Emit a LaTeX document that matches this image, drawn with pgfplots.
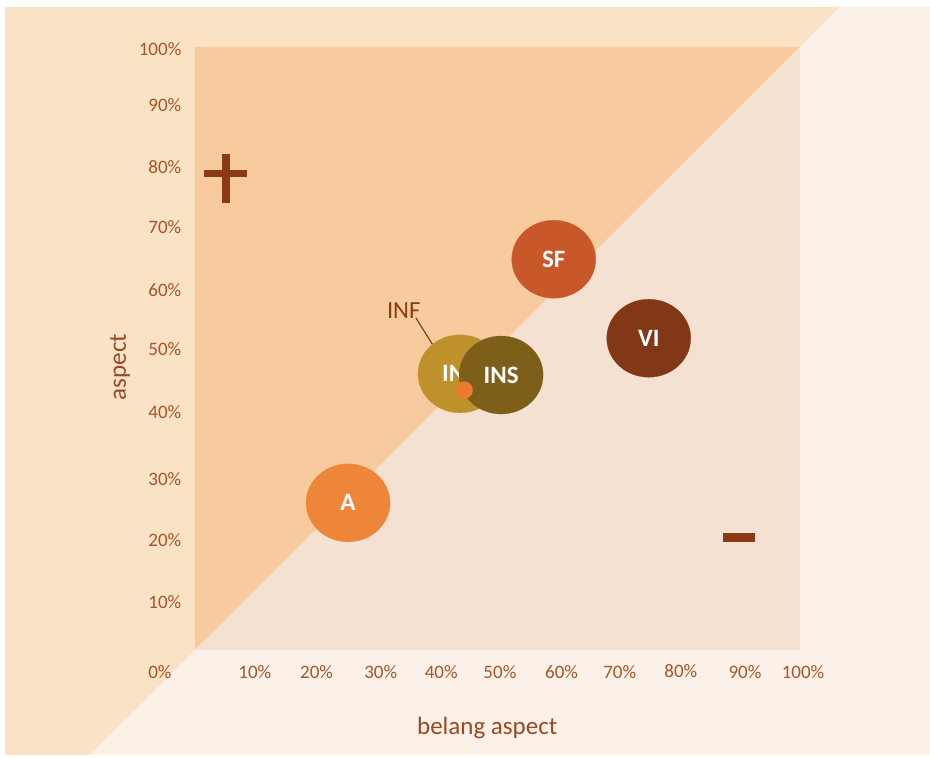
\documentclass[border=0pt]{standalone}
\usepackage{pgfplots}
\pgfplotsset{compat=1.18}
\usepackage{fontspec}
\setmainfont{Carlito}
\definecolor{outerUL}{RGB}{250,226,197}
\definecolor{outerLR}{RGB}{252,241,232}
\definecolor{innerUL}{RGB}{247,203,157}
\definecolor{innerLR}{RGB}{244,225,210}
\definecolor{tickc}{RGB}{166,86,40}
\definecolor{labc}{RGB}{156,72,32}
\definecolor{infc}{RGB}{140,60,25}
\definecolor{signc}{RGB}{139,58,21}
\definecolor{cA}{RGB}{238,134,58}
\definecolor{cSF}{RGB}{200,88,42}
\definecolor{cVI}{RGB}{130,56,22}
\definecolor{cGold}{RGB}{190,145,42}
\definecolor{cINS}{RGB}{125,95,25}
\definecolor{cDot}{RGB}{238,122,50}
\begin{document}
\begin{tikzpicture}
\begin{axis}[
  width=302.5pt, height=301.5pt, scale only axis,
  xmin=0, xmax=100, ymin=0, ymax=100, clip=false, axis on top,
  axis line style={draw=none}, major tick length=0pt, tick style={draw=none},
  xtick={9.9,20.1,30.7,40.7,50.4,60.6,70.2,80.3,90.9},
  xticklabels={10\%,20\%,\raisebox{-1.5pt}{30\%},40\%,50\%,60\%,70\%,\raisebox{1pt}{80\%},90\%},
  ytick={8.0,18.2,28.4,39.5,49.9,59.7,70.1,80.1,90.4,99.6},
  yticklabels={10\%,20\%,30\%,40\%,50\%,60\%,70\%,80\%,90\%,100\%},
  ticklabel style={font=\fontsize{9.5}{11}\selectfont, text=tickc},
  xticklabel style={anchor=center, yshift=-11pt},
  yticklabel style={anchor=east, xshift=-3.3pt},
  xlabel={belang aspect}, ylabel={aspect},
  label style={font=\fontsize{12.5}{14}\selectfont, text=labc},
  xlabel style={at={(axis description cs:0.483,-0.129)}, anchor=center},
  ylabel style={at={(axis description cs:-0.124,0.469)}, anchor=center},
]
% canvas and backgrounds
\addplot[draw=none, fill=white] coordinates {(-32.23,-17.91) (121.49,-17.91) (121.49,107.79) (-32.23,107.79)} -- cycle;
\addplot[draw=none, fill=outerUL] coordinates {(-31.4,-17.41) (-17.41,-17.41) (106.63,106.63) (-31.4,106.63)} -- cycle;
\addplot[draw=none, fill=outerLR] coordinates {(-17.41,-17.41) (121.49,-17.41) (121.49,106.63) (106.63,106.63)} -- cycle;
\addplot[draw=none, fill=innerUL] coordinates {(0,0) (100,100) (0,100)} -- cycle;
\addplot[draw=none, fill=innerLR] coordinates {(0,0) (100,0) (100,100)} -- cycle;
% end tick labels lying outside the axis range
\node[text=tickc, font=\fontsize{9.5}{11}\selectfont, anchor=center, yshift=-11pt] at (axis cs:-5.8,0) {0\%};
\node[text=tickc, font=\fontsize{9.5}{11}\selectfont, anchor=center, yshift=-11pt] at (axis cs:100.5,0) {100\%};
% plus and minus signs
\addplot[color=signc, line width=3.75pt] coordinates {(1.49,79.0) (8.6,79.0)};
\addplot[color=signc, line width=3.75pt] coordinates {(5.12,82.3) (5.12,74.1)};
\addplot[color=signc, line width=4.5pt] coordinates {(87.3,18.6) (92.6,18.6)};
% bubbles
\pgfplotsset{bub/.style={only marks, mark=*, mark size=19.5pt, color=#1,
   mark options={fill=#1, draw=#1, line width=0.1pt, xscale=1.077},
   every node near coord/.append style={anchor=center, text=white, font=\bfseries\fontsize{12.5}{14}\selectfont}}}
\addplot[bub=cA, nodes near coords={A}] coordinates {(25.3,24.4)};
\addplot[bub=cSF, nodes near coords={SF}] coordinates {(59.3,64.8)};
\addplot[bub=cVI, nodes near coords={VI}] coordinates {(75.0,51.7)};
\addplot[bub=cGold, nodes near coords={INT}] coordinates {(43.8,45.8)};
\addplot[bub=cINS, nodes near coords={INS}] coordinates {(50.6,45.6)};
\addplot[only marks, mark=*, mark size=4.25pt, color=cDot, mark options={fill=cDot, draw=cDot, line width=0.1pt}] coordinates {(44.5,43.1)};
% INF callout
\addplot[color=infc, line width=0.6pt] coordinates {(36.5,55.1) (39.3,50.6)};
\node[text=infc, font=\fontsize{12.3}{14}\selectfont] at (axis cs:34.5,56.2) {INF};
\end{axis}
\end{tikzpicture}
\end{document}
